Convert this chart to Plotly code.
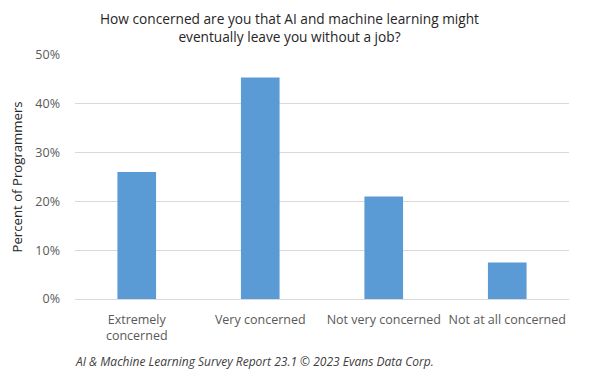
import plotly.graph_objects as go

categories = ["Extremely<br>concerned", "Very concerned", "Not very concerned", "Not at all concerned"]
percent_values = [26, 45.4, 21, 7.5]
y_tick_values = [0, 10, 20, 30, 40, 50]
y_tick_labels = ["0%", "10%", "20%", "30%", "40%", "50%"]

title_text = "How concerned are you that AI and machine learning might<br>eventually leave you without a job?"
y_title = "Percent of Programmers"
footnote = "AI & Machine Learning Survey Report 23.1 © 2023 Evans Data Corp."

FONT = "Open Sans"

fig = go.Figure(
    go.Bar(
        x=categories,
        y=percent_values,
        marker=dict(color="#5B9BD5", line=dict(width=0)),
        hoverinfo="skip",
    )
)

fig.update_layout(
    width=584,
    height=378,
    margin=dict(l=67, r=23, t=47, b=87),
    paper_bgcolor="white",
    plot_bgcolor="white",
    bargap=0.687,
    showlegend=False,
    font=dict(family=FONT, color="#595959", size=12),
    xaxis=dict(
        showgrid=False,
        showline=False,
        ticks="",
        ticklabelstandoff=11,
        tickfont=dict(family=FONT, size=12.5, color="#595959"),
        automargin=False,
    ),
    yaxis=dict(
        range=[0, 50],
        tickvals=y_tick_values,
        ticktext=y_tick_labels,
        showgrid=True,
        gridcolor="#D9D9D9",
        gridwidth=1,
        zeroline=True,
        zerolinecolor="#D9D9D9",
        zerolinewidth=1,
        showline=False,
        ticks="",
        ticklabelstandoff=14,
        tickfont=dict(family=FONT, size=12.5, color="#595959"),
        automargin=False,
    ),
    annotations=[
        dict(
            text=title_text,
            xref="paper",
            yref="paper",
            x=0.435,
            y=1,
            xanchor="center",
            yanchor="bottom",
            yshift=7,
            showarrow=False,
            align="center",
            font=dict(family=FONT, size=13.7, color="#262626"),
        ),
        dict(
            text=y_title,
            textangle=-90,
            xref="paper",
            yref="paper",
            x=-0.1164,
            y=0.5,
            xanchor="center",
            yanchor="middle",
            borderpad=0,
            showarrow=False,
            font=dict(family=FONT, size=13.2, color="#262626"),
        ),
        dict(
            text="<i>" + footnote + "</i>",
            xref="paper",
            yref="paper",
            x=-0.004,
            y=-0.258,
            xanchor="left",
            yanchor="middle",
            showarrow=False,
            font=dict(family=FONT, size=12, color="#404040"),
        ),
    ],
)

fig.write_html("out.html")
